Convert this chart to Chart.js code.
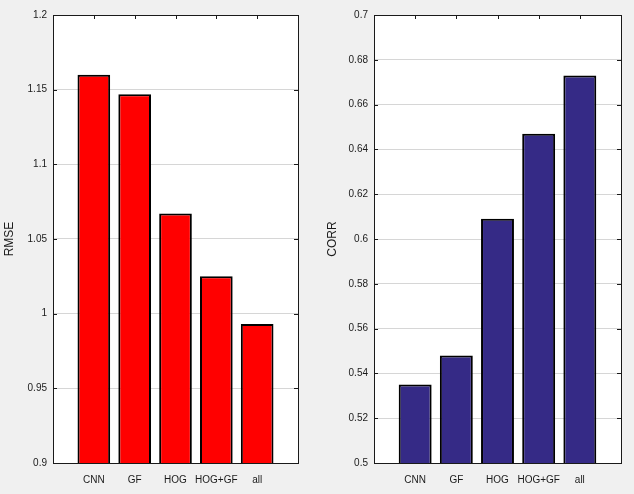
<!DOCTYPE html>
<html>
<head>
<meta charset="utf-8">
<script src="https://cdn.jsdelivr.net/npm/chart.js@4/dist/chart.umd.min.js"></script>
<style>
  html, body { margin: 0; padding: 0; background: #f0f0f0; }
  .box { position: absolute; top: 0; width: 317px; height: 494px; }
  #left { left: 0; }
  #right { left: 317px; }
</style>
</head>
<body>
<div class="box" id="left"><canvas id="rmse"></canvas></div>
<div class="box" id="right"><canvas id="corr"></canvas></div>
<script>
const categories = ['CNN', 'GF', 'HOG', 'HOG+GF', 'all'];
const rmseValues = [1.160, 1.147, 1.067, 1.025, 0.993];
const corrValues = [0.535, 0.548, 0.609, 0.647, 0.673];
const rmseTicks = [0.9, 1.2, 0.05];
const corrTicks = [0.5, 0.7, 0.02];

const font = { family: 'Arial, "Liberation Sans", sans-serif', size: 10 };

// white axes background plus a MATLAB style box with inward ticks
const boxPlugin = {
  id: 'box',
  beforeDraw(chart) {
    const { ctx, chartArea: a } = chart;
    ctx.save();
    ctx.fillStyle = '#ffffff';
    ctx.fillRect(a.left, a.top, a.right - a.left, a.bottom - a.top);
    ctx.restore();
  },
  beforeDatasetsDraw(chart) {
    const { ctx, chartArea: a, scales } = chart;
    ctx.save();
    ctx.strokeStyle = '#1a1a1a';
    ctx.lineWidth = 1;
    ctx.beginPath();
    scales.y.ticks.forEach(t => {
      const y = Math.round(scales.y.getPixelForValue(t.value)) + 0.5;
      ctx.moveTo(a.left, y); ctx.lineTo(a.left + 4, y);
      ctx.moveTo(a.right, y); ctx.lineTo(a.right - 4, y);
    });
    scales.x.ticks.forEach(t => {
      const x = Math.round(scales.x.getPixelForValue(t.value)) + 0.5;
      ctx.moveTo(x, a.top); ctx.lineTo(x, a.top + 4);
      ctx.moveTo(x, a.bottom); ctx.lineTo(x, a.bottom - 4);
    });
    ctx.stroke();
    ctx.restore();
  },
  afterDatasetsDraw(chart) {
    const { ctx, chartArea: a } = chart;
    ctx.save();
    ctx.strokeStyle = '#1a1a1a';
    ctx.lineWidth = 1;
    ctx.strokeRect(Math.round(a.left) + 0.5, Math.round(a.top) + 0.5,
      Math.round(a.right - a.left), Math.round(a.bottom - a.top));
    ctx.restore();
  }
};

function makeChart(id, title, values, yt, color, yWidth, rightPad, titlePad) {
  return new Chart(document.getElementById(id), {
    type: 'bar',
    data: {
      datasets: [{
        data: values.map((v, i) => ({ x: i + 1, y: v })),
        backgroundColor: color,
        borderColor: '#000000',
        borderWidth: 2,
        barPercentage: 0.8,
        categoryPercentage: 1
      }]
    },
    options: {
      responsive: true,
      maintainAspectRatio: false,
      animation: false,
      layout: { padding: { top: 15, right: rightPad, left: 0, bottom: 0 } },
      plugins: { legend: { display: false }, tooltip: { enabled: false } },
      scales: {
        x: {
          type: 'linear',
          offset: false,
          min: 0,
          max: categories.length + 1,
          afterBuildTicks: s => { s.ticks = categories.map((c, i) => ({ value: i + 1 })); },
          afterFit: s => { s.height = 31; },
          grid: { display: false, drawTicks: false },
          border: { display: false },
          ticks: {
            autoSkip: false,
            maxRotation: 0,
            padding: 11,
            color: '#1a1a1a',
            font,
            callback: v => categories[v - 1] || ''
          }
        },
        y: {
          min: yt[0],
          max: yt[1],
          afterFit: s => { s.width = yWidth; },
          grid: { color: '#d6d6d6', lineWidth: 1, drawTicks: false },
          border: { display: false },
          ticks: {
            stepSize: yt[2],
            padding: 6,
            color: '#1a1a1a',
            font,
            callback: v => String(+v.toFixed(3))
          },
          title: {
            display: true,
            text: title,
            color: '#1a1a1a',
            padding: titlePad,
            font: { family: font.family, size: 12 }
          }
        }
      }
    },
    plugins: [boxPlugin]
  });
}

makeChart('rmse', 'RMSE', rmseValues, rmseTicks, 'rgb(255,0,0)', 53, 19, 2);
makeChart('corr', 'CORR', corrValues, corrTicks, 'rgb(53,42,134)', 57, 13, 8);
</script>
</body>
</html>
